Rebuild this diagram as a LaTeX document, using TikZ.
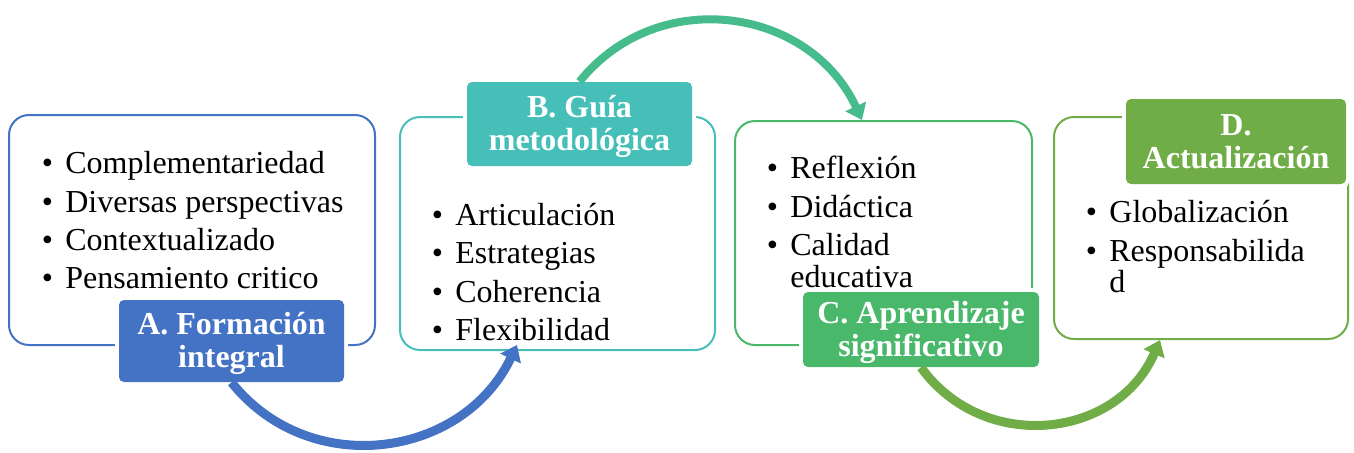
\documentclass[tikz,border=0pt]{standalone}
\usepackage{fontspec}
\setmainfont{Liberation Serif}
\usetikzlibrary{arrows.meta}
\definecolor{cA}{HTML}{4472C4}
\definecolor{cB}{HTML}{46BFB8}
\definecolor{cBC}{HTML}{46BC8C}
\definecolor{cC}{HTML}{4AB86B}
\definecolor{cD}{HTML}{70AD47}
\newcommand\bul[1]{\makebox[11.75pt][l]{\textbullet}#1}
\newcommand\topstrut{\rule{0pt}{15pt}}
\newcommand\botstrut{\rule[-5pt]{0pt}{5pt}}
\tikzset{
  x=0.5pt, y=-0.5pt,
  outerbox/.style={draw=#1, line width=1pt, rounded corners=10pt, inner sep=0pt, fill=white},
  labelbox/.style={fill=#1, preaction={draw=white, line width=4pt}, rounded corners=2.5pt,
    inner sep=0pt, text=white, font=\fontsize{16}{16.5}\selectfont\bfseries, align=center},
  item/.style={anchor=base west, inner sep=0pt, font=\fontsize{16}{16}\selectfont},
  flow/.style={line width=4.5pt, draw=#1, -{Triangle[length=7.5pt,width=11pt]}},
}
\begin{document}
\begin{tikzpicture}
\path[use as bounding box] (0,0) rectangle (1354,452);
% outer boxes
\node[outerbox=cA, minimum width=183pt, minimum height=115pt] (Abox) at (192,230) {};
\node[outerbox=cB, minimum width=157.5pt, minimum height=116.5pt] (Bbox) at (557.5,233.5) {};
\node[outerbox=cC, minimum width=148.5pt, minimum height=112pt] (Cbox) at (883.5,233) {};
\node[outerbox=cD, minimum width=147pt, minimum height=111pt] (Dbox) at (1201,228) {};
% lists
\node[item] (a1) at (41.5,173) {\bul{Complementariedad}};
\node[item] (a2) at (41.5,212) {\bul{Diversas perspectivas}};
\node[item] (a3) at (41.5,250) {\bul{Contextualizado}};
\node[item] (a4) at (41.5,288) {\bul{Pensamiento critico}};
\node[item] (b1) at (431.5,225) {\bul{Articulación}};
\node[item] (b2) at (431.5,263.5) {\bul{Estrategias}};
\node[item] (b3) at (431.5,302) {\bul{Coherencia}};
\node[item] (b4) at (431.5,340) {\bul{Flexibilidad}};
\node[item] (c1) at (766.5,178) {\bul{Reflexión}};
\node[item] (c2) at (766.5,217) {\bul{Didáctica}};
\node[item] (c3) at (766.5,255.5) {\bul{Calidad}};
\node[item] (c4) at (766.5,287) {\hspace*{11.75pt}educativa};
\node[item] (d1) at (1085.5,222) {\bul{Globalización}};
\node[item] (d2) at (1085.5,261.5) {\bul{Responsabilida}};
\node[item] (d3) at (1085.5,292.5) {\hspace*{11.75pt}d};
% labels
\node[labelbox=cA, minimum width=112.5pt, minimum height=41pt] (Alabel) at (231.5,341) {\topstrut A. Formación\\integral\botstrut};
\node[labelbox=cB, minimum width=112.5pt, minimum height=42pt] (Blabel) at (579.5,124) {\topstrut B. Guía\\metodológica\botstrut};
\node[labelbox=cC, minimum width=118pt, minimum height=37.5pt] (Clabel) at (921,329.5) {\topstrut C. Aprendizaje\\significativo\botstrut};
\node[labelbox=cD, minimum width=110pt, minimum height=42.5pt] (Dlabel) at (1236,141.5) {\topstrut D.\\Actualización\botstrut};
% arrow targets
\coordinate (Bin) at ([xshift=-20.25pt,yshift=3pt]Bbox.south);
\coordinate (Cin) at ([xshift=-10.75pt]Cbox.north);
\coordinate (Din) at ([xshift=-20.5pt]Dbox.south);
% arrows
\draw[flow=cA] (Alabel.south) .. controls +(78.4,97.9) and +(-54,113.2) .. (Bin);
\draw[flow=cBC, line width=4pt] (Blabel.north) .. controls +(78.2,-97.1) and +(-52.5,-113.1) .. (Cin);
\draw[flow=cD] (Clabel.south) .. controls +(63.2,87) and +(-42.4,98.8) .. (Din);
\end{tikzpicture}
\end{document}
